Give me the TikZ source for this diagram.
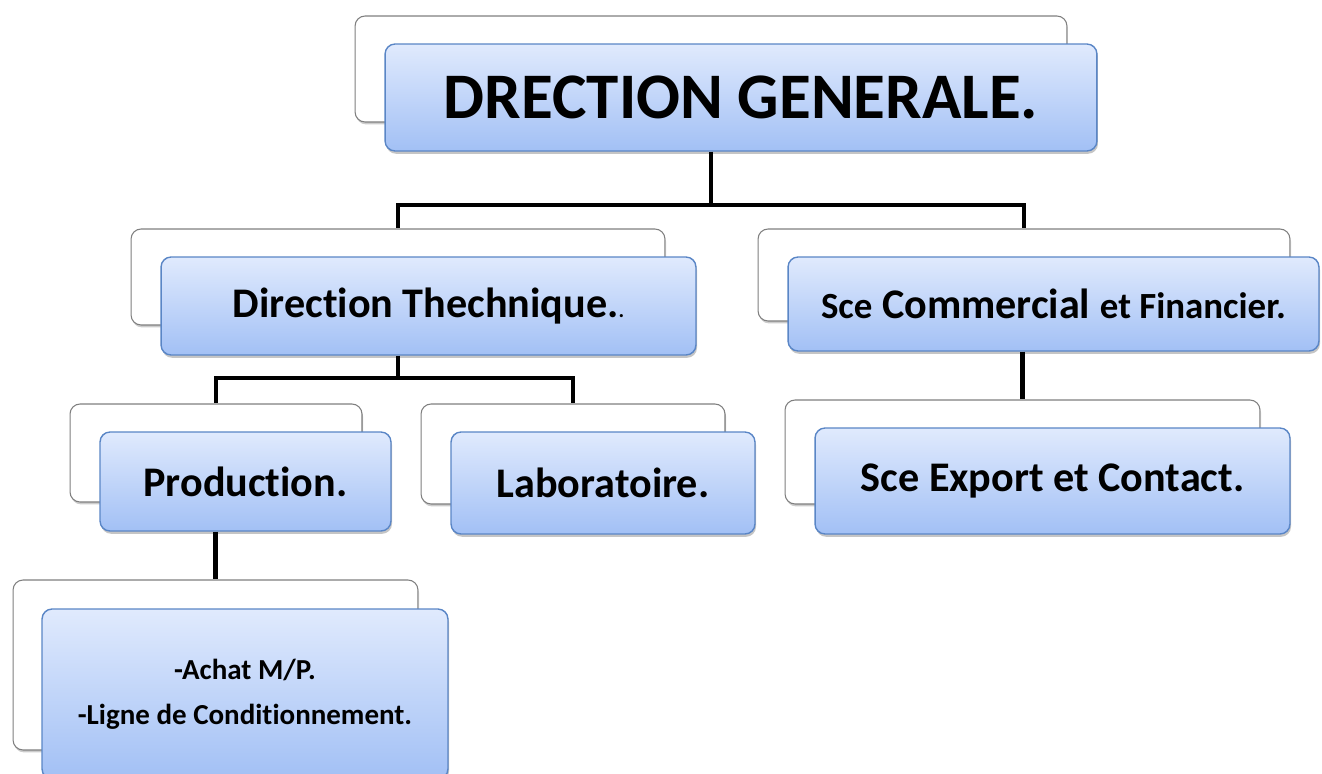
\documentclass[tikz,border=0pt]{standalone}
\usepackage{fontspec}
\setmainfont{Carlito}[Ligatures=NoCommon]
\usetikzlibrary{shadows}
\definecolor{UnitTop}{HTML}{E0EAFD}
\definecolor{UnitBottom}{HTML}{A2C0F5}
\definecolor{UnitEdge}{HTML}{5A86C6}
\definecolor{BackEdge}{HTML}{7F7F7F}
\definecolor{ShadowGrey}{HTML}{6E6E6E}

\begin{document}
\begin{tikzpicture}[
        x=0.02cm, y=-0.02cm,
        backunit/.style={
            draw=BackEdge,
            fill=white,
            line width=0.6pt,
            rounded corners=0.2cm,
            inner sep=0pt,
            drop shadow={shadow xshift=0.6pt, shadow yshift=-1.4pt, opacity=0.35, fill=ShadowGrey}
        },
        unit/.style={
            draw=UnitEdge,
            top color=UnitTop,
            bottom color=UnitBottom,
            line width=0.8pt,
            rounded corners=0.2cm,
            inner sep=0pt,
            text=black,
            align=center,
            font=\bfseries\fontsize{24}{29}\selectfont,
            drop shadow={shadow xshift=0.6pt, shadow yshift=-1.6pt, opacity=0.4, fill=ShadowGrey}
        },
        link/.style={
            line width=2.8pt,
            draw=black
        }
    ]
        \useasboundingbox (0,0) rectangle (1322,774);

        % direction generale
        \node[backunit, minimum width=14.24cm, minimum height=2.12cm] (dgback) at (711,69) {};
        \node[unit, minimum width=14.24cm, minimum height=2.14cm,
            font=\bfseries\fontsize{37}{44}\selectfont] (dg) at (741,97.5)
            {DRECTION GENERALE.};

        % second level
        \node[backunit, minimum width=10.68cm, minimum height=1.92cm] (dtback) at (398,277) {};
        \node[unit, minimum width=10.7cm, minimum height=1.96cm] (dt) at (428.5,306)
            {Direction Thechnique.{\fontsize{12}{14}\selectfont .}};
        \node[backunit, minimum width=10.64cm, minimum height=1.84cm] (scfback) at (1024,275) {};
        \node[unit, minimum width=10.62cm, minimum height=1.88cm] (scf) at (1053.5,304)
            {{\fontsize{21}{25}\selectfont Sce} Commercial {\fontsize{21}{25}\selectfont et Financier.}};

        % third level
        \node[backunit, minimum width=5.84cm, minimum height=1.96cm] (prodback) at (216,453) {};
        \node[unit, minimum width=5.82cm, minimum height=1.98cm] (prod) at (245.5,481.5)
            {Production.};
        \node[backunit, minimum width=6.08cm, minimum height=2cm] (labback) at (573,454) {};
        \node[unit, minimum width=6.08cm, minimum height=2.04cm] (lab) at (603,483)
            {Laboratoire.};
        \node[backunit, minimum width=9.5cm, minimum height=2.08cm] (expback) at (1022.5,452) {};
        \node[unit, minimum width=9.5cm, minimum height=2.12cm] (exp) at (1052.5,481)
            {Sce Export et Contact.};

        % fourth level
        \node[backunit, minimum width=8.1cm, minimum height=3.4cm] (achback) at (215.5,665) {};
        \node[unit, minimum width=8.12cm, minimum height=3.4cm,
            font=\bfseries\fontsize{16.5}{25.6}\selectfont] (ach) at (245,694)
            {-Achat M/P.\\-Ligne de Conditionnement.};

        % connectors
        \coordinate (dgsplit) at (711,205);
        \coordinate (dtsplit) at (398,378);
        \draw[link] (dg.south -| dgback.south) -- (dgsplit) -| (dtback.north);
        \draw[link] (dgsplit) -| (scfback.north);
        \draw[link] (dt.south -| dtback.south) -- (dtsplit) -| (prodback.north);
        \draw[link] (dtsplit) -| (labback.north);
        \draw[link] (scf.south -| expback.north) -- (expback.north);
        \draw[link] (prod.south -| achback.north) -- (achback.north);
\end{tikzpicture}
\end{document}
